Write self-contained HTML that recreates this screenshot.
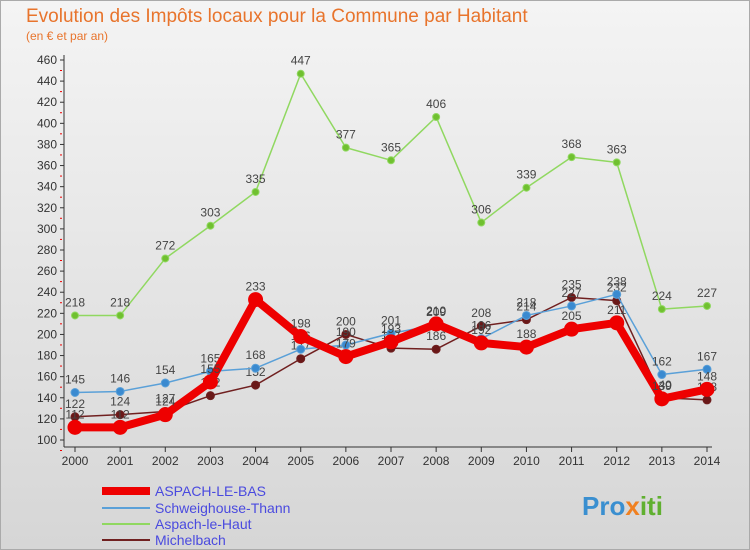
<!DOCTYPE html>
<html><head><meta charset="utf-8"><style>
body{margin:0;width:750px;height:550px;overflow:hidden;font-family:"Liberation Sans",sans-serif}
#wrap{position:absolute;left:0;top:0;width:748px;height:548px;border:1px solid #aaa;background:linear-gradient(#f4f4f4,#d6d6d6)}
</style></head><body>
<div id="wrap">
<svg id="chart" width="750" height="550" style="position:absolute;left:-1px;top:-1px">
<text x="26" y="22" font-size="19" fill="#e8742c">Evolution des Impôts locaux pour la Commune par Habitant</text>
<text x="26" y="40" font-size="12" fill="#e8742c">(en € et par an)</text>
<g id="axes"></g><g id="series"></g>
<g>
<line x1="102" y1="491" x2="150" y2="491" stroke="#ee0000" stroke-width="8"/>
<text x="155" y="496" font-size="14" fill="#4a4adf">ASPACH-LE-BAS</text>
<line x1="102" y1="508" x2="150" y2="508" stroke="#5aa0d8" stroke-width="2"/>
<text x="155" y="513" font-size="14" fill="#4a4adf">Schweighouse-Thann</text>
<line x1="102" y1="524" x2="150" y2="524" stroke="#90d860" stroke-width="2"/>
<text x="155" y="529" font-size="14" fill="#4a4adf">Aspach-le-Haut</text>
<line x1="102" y1="540" x2="150" y2="540" stroke="#702020" stroke-width="2"/>
<text x="155" y="545" font-size="14" fill="#4a4adf">Michelbach</text>
</g>
<text x="582" y="515" font-size="26" font-weight="bold" fill="#3a8fd0">Pro<tspan fill="#f08020">x</tspan><tspan fill="#60b030">iti</tspan></text>
</svg>
</div>
<script>
const years=[2000,2001,2002,2003,2004,2005,2006,2007,2008,2009,2010,2011,2012,2013,2014];
const yTicks=[100,120,140,160,180,200,220,240,260,280,300,320,340,360,380,400,420,440,460];
const aspachBas=[112,112,124,155,233,198,179,193,210,192,188,205,211,139,148];
const schweighouse=[145,146,154,165,168,186,190,201,209,196,218,227,238,162,167];
const aspachHaut=[218,218,272,303,335,447,377,365,406,306,339,368,363,224,227];
const michelbach=[122,124,127,142,152,177,200,187,186,208,214,235,232,140,138];
const NS="http://www.w3.org/2000/svg";
const X=i=>75+i*(632/14), Y=v=>440-(v-100)*(380/360);
function mk(t,a,p){const e=document.createElementNS(NS,t);for(const k in a)e.setAttribute(k,a[k]);p.appendChild(e);return e;}
const ax=document.getElementById('axes');
let l=mk('line',{x1:64,y1:55,x2:64,y2:447,stroke:'#333'},ax);


l=mk('line',{x1:64,y1:447,x2:712,y2:447,stroke:'#333'},ax);


yTicks.forEach(v=>{const y=Y(v);
 mk('line',{x1:60,y1:y,x2:64,y2:y,stroke:'#333'},ax);
 mk('line',{x1:60,y1:y+10.5,x2:62,y2:y+10.5,stroke:'#e00'},ax);
 const t=mk('text',{x:57,y:y+4,'font-size':12,'text-anchor':'end',fill:'#333'},ax);t.textContent=v;
 
 });
years.forEach((yr,i)=>{const x=X(i);
 mk('line',{x1:x,y1:447,x2:x,y2:452,stroke:'#333'},ax);
 const t=mk('text',{x:x,y:465,'font-size':12,'text-anchor':'middle',fill:'#333'},ax);t.textContent=yr;
 
 });
const sg=document.getElementById('series');
function draw(d,name,col,w,r,dot){const g=mk('g',{},sg);
 
 
 mk('polyline',{points:d.map((v,i)=>X(i)+','+Y(v)).join(' '),fill:'none',stroke:col,'stroke-width':w,'stroke-linejoin':'round'},g);
 d.forEach((v,i)=>{const c=mk('circle',{cx:X(i),cy:Y(v),r:r,fill:dot,stroke:col,'stroke-width':1},g);
  
  
  const t=mk('text',{x:X(i),y:Y(v)-9,'font-size':12,'text-anchor':'middle',fill:'#444'},g);t.textContent=v;
  
  });}
draw(aspachHaut,'aspach-le-haut','#90d860',1.5,3.5,'#70c030');
draw(michelbach,'michelbach','#702020',1.5,4,'#6a1818');
draw(schweighouse,'schweighouse-thann','#5aa0d8',1.5,4,'#3a8ad0');
draw(aspachBas,'aspach-le-bas','#ee0000',8,7,'#ee0000');
</script>
</body></html>
